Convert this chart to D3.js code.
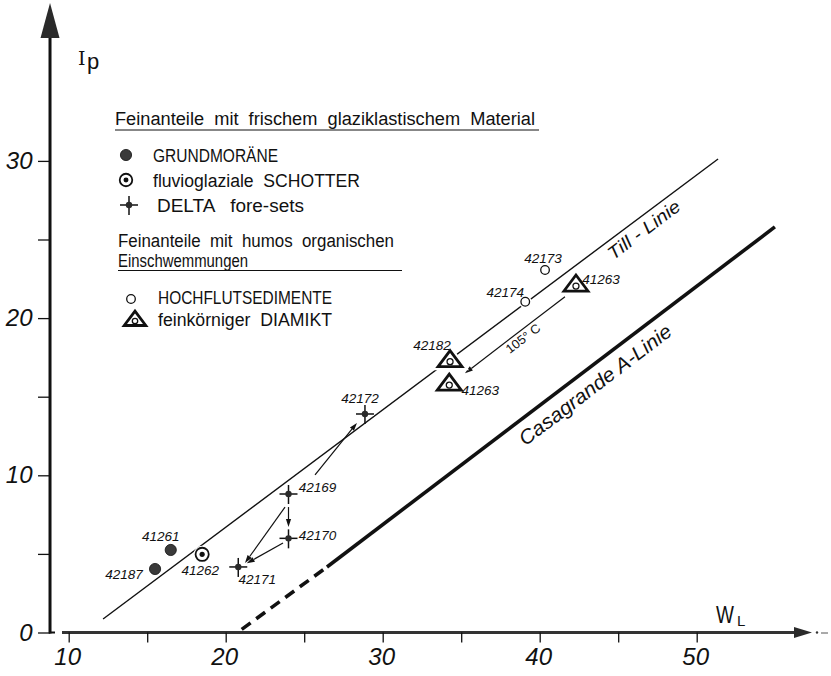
<!DOCTYPE html>
<html><head><meta charset="utf-8">
<script src="https://cdn.jsdelivr.net/npm/d3@7"></script>
<style>body{margin:0;background:#fff}svg{display:block}</style>
</head><body>
<svg id="c" width="831" height="676"></svg>
<script>
// ---------- DATA ----------
const xTicks = [10, 20, 30, 40, 50];
const xMinor = [15, 25, 35, 45];
const yTicks = [0, 10, 20, 30];
const yMinor = [5, 15, 25];

const grundmoraene = [{id:"41261", wl:16.5, ip:5.25}, {id:"42187", wl:15.5, ip:4.04}];
const schotter     = [{id:"41262", wl:18.5, ip:4.97}];
const deltaSets    = [{id:"42171", wl:20.8, ip:4.17}, {id:"42170", wl:24.0, ip:5.99},
                      {id:"42169", wl:24.0, ip:8.81}, {id:"42172", wl:28.87, ip:13.9}];
const hochflut     = [{id:"42174", wl:39.08, ip:21.04}, {id:"42173", wl:40.34, ip:23.06}];
const diamikt      = [{id:"42182", wl:34.29, ip:17.23}, {id:"41263", wl:34.24, ip:15.74},
                      {id:"41263", wl:42.31, ip:22.04}];

const tillLine   = [[12.19, 0.86], [51.36, 30.12]];
const aLineDash  = [[21.02, 0.2], [26.45, 4.17]];
const aLineSolid = [[26.45, 4.17], [54.98, 25.8]];
const arrowsData = [
  [[25.69, 10.02], [28.36, 13.33]],
  [[24.0, 7.98], [24.0, 6.71]],
  [[23.78, 7.98], [21.23, 4.42]],
  [[23.65, 5.69], [21.34, 4.40]],
  [[41.61, 21.36], [35.24, 16.49]]
];
const legendTexts = ["Feinanteile  mit  frischem  glaziklastischem  Material", "GRUNDMORÄNE",
  "fluvioglaziale  SCHOTTER", "DELTA   fore-sets", "Feinanteile  mit  humos  organischen",
  "Einschwemmungen", "HOCHFLUTSEDIMENTE", "feinkörniger  DIAMIKT"];
const lineLabels = {till:"Till - Linie", casa:"Casagrande A-Linie", heat:"105° C"};

// ---------- LAYOUT ----------
const svg = d3.select("#c");
const x = d3.scaleLinear().domain([10, 50]).range([68.7, 696.7]);
const y = d3.scaleLinear().domain([0, 30]).range([632.5, 160.9]);
const ink = "#111";
const sans = "'Liberation Sans', Arial, sans-serif";

const lblOff = {"41261":[-10,-9],"42187":[-31,10],"41262":[-2,21],"42171":[19,17],"42170":[29,2],
  "42169":[29,-2],"42172":[-5,-11],"42182":[-18,-12],"41263a":[31,10],"42174":[-20,-5],
  "42173":[-2,-7],"41263b":[25,-2]};

// ---------- AXES ----------
const axX = x(8.81), axY = y(0);
svg.append("line").attr("x1",axX).attr("x2",axX).attr("y1",axY+1).attr("y2",30)
  .attr("stroke",ink).attr("stroke-width",3);
svg.append("path").attr("d",`M${axX},3 L${axX-9.5},38 L${axX+9.5},38 Z`).attr("fill","#2a2a2a");
svg.append("line").attr("x1",axX-1).attr("x2",axX+5).attr("y1",axY).attr("y2",axY)
  .attr("stroke",ink).attr("stroke-width",2);
svg.append("line").attr("x1",62).attr("x2",797).attr("y1",axY).attr("y2",axY)
  .attr("stroke","#333").attr("stroke-width",3);
svg.append("path").attr("d",`M812,${axY} L794,${axY-5.5} L794,${axY+5.5} Z`).attr("fill","#2a2a2a");
svg.append("circle").attr("cx",817).attr("cy",axY).attr("r",1.2).attr("fill","#333");
svg.append("line").attr("x1",821).attr("x2",828).attr("y1",axY+0.5).attr("y2",axY+0.5).attr("stroke","#555").attr("stroke-width",1);

function styleAxis(g){
  g.select(".domain").remove();
  g.selectAll(".tick line").attr("stroke",ink).attr("stroke-width",1.3);
  g.selectAll(".tick text").attr("fill",ink).attr("font-family",sans)
    .attr("font-style","italic").attr("font-size",24);
}
svg.append("g").attr("transform",`translate(${axX},0)`)
  .call(d3.axisLeft(y).tickValues(yTicks).tickSize(12).tickPadding(4).tickFormat(d3.format("d")))
  .call(styleAxis);
svg.append("g").attr("transform",`translate(${axX},0)`)
  .call(d3.axisLeft(y).tickValues(yMinor).tickSize(12).tickFormat(""))
  .call(styleAxis);
svg.append("g").attr("transform",`translate(0,${axY})`)
  .call(d3.axisBottom(x).tickValues(xTicks).tickSize(10).tickPadding(5.5).tickFormat(d3.format("d")))
  .call(styleAxis);
svg.append("g").attr("transform",`translate(0,${axY})`)
  .call(d3.axisBottom(x).tickValues(xMinor).tickSize(10).tickFormat(""))
  .call(styleAxis);
svg.selectAll(".tick text").attr("dx",-1.5);

// axis titles
svg.append("text").attr("x",78).attr("y",65).attr("fill",ink)
  .attr("font-family","'DejaVu Serif', serif").attr("font-size",19).text("I");
svg.append("text").attr("x",87).attr("y",69).attr("fill",ink)
  .attr("font-family",sans).attr("font-size",22).text("p");
svg.append("text").attr("transform","translate(716,623) scale(1,1.3)").attr("fill",ink)
  .attr("font-family",sans).attr("font-size",19).text("W");
svg.append("text").attr("x",737).attr("y",626).attr("fill",ink).attr("font-family",sans)
  .attr("font-size",15).text("L");

// ---------- LINES ----------
const line = d3.line().x(d=>x(d[0])).y(d=>y(d[1]));
svg.append("path").attr("d",line(tillLine)).attr("stroke",ink).attr("stroke-width",1.4).attr("fill","none");
svg.append("path").attr("d",line(aLineDash)).attr("stroke",ink).attr("stroke-width",3.6)
  .attr("stroke-dasharray","11,7").attr("fill","none");
svg.append("path").attr("d",line(aLineSolid)).attr("stroke",ink).attr("stroke-width",3.6).attr("fill","none");

function alongLabel(seg, wlVal, perp, txt, size, italic, len){
  const p0=[x(seg[0][0]),y(seg[0][1])], p1=[x(seg[1][0]),y(seg[1][1])];
  const dx=p1[0]-p0[0], dy=p1[1]-p0[1], L=Math.hypot(dx,dy);
  const ux=dx/L, uy=dy/L;
  const t=(x(wlVal)-p0[0])/dx;
  const px=p0[0]+t*dx, py=p0[1]+t*dy;
  const nx=-uy, ny=ux;
  const sgn = ny>0?1:-1;
  const cx=px+sgn*nx*perp, cy=py+sgn*ny*perp;
  const ang=Math.atan2(dy,dx)*180/Math.PI;
  const a = ang>90||ang<-90 ? ang+180 : ang;
  const tx = svg.append("text").attr("transform",`translate(${cx},${cy}) rotate(${a})`)
    .attr("text-anchor","middle").attr("dominant-baseline","central")
    .attr("font-family",sans).attr("font-size",size).attr("font-style",italic?"italic":"normal")
    .attr("fill",ink).style("white-space","pre").text(txt);
  if(len) tx.attr("textLength",len).attr("lengthAdjust","spacingAndGlyphs");
}
alongLabel(tillLine, 46.17, 12.4, lineLabels.till, 18, true, 86);
alongLabel(aLineSolid, 42.87, 17, lineLabels.casa, 20, true, 186);

function arrow(a){
  const p0=[x(a[0][0]),y(a[0][1])], p1=[x(a[1][0]),y(a[1][1])];
  const dx=p1[0]-p0[0], dy=p1[1]-p0[1], L=Math.hypot(dx,dy), ux=dx/L, uy=dy/L;
  const hl=8, hw=2.6;
  const bx=p1[0]-ux*hl, by=p1[1]-uy*hl;
  svg.append("line").attr("x1",p0[0]).attr("y1",p0[1]).attr("x2",bx).attr("y2",by)
    .attr("stroke",ink).attr("stroke-width",1.2);
  svg.append("path").attr("d",`M${p1[0]},${p1[1]} L${bx-uy*hw},${by+ux*hw} L${bx+uy*hw},${by-ux*hw} Z`)
    .attr("fill",ink);
}
arrowsData.forEach(arrow);
alongLabel(arrowsData[4], 38.64, 8, lineLabels.heat, 12.5, false, 40);

// ---------- MARKERS ----------
function drawMarker(g, type, s){
  s = s||1;
  if(type==="dot"){
    g.append("circle").attr("r",5.6*s).attr("fill","#3a3a3a").attr("stroke",ink).attr("stroke-width",0.8);
  } else if(type==="ring"){
    g.append("circle").attr("r",8.5*s).attr("fill","#fff");
    g.append("circle").attr("r",6.6*s).attr("fill","#fff").attr("stroke",ink).attr("stroke-width",1.8);
    g.append("circle").attr("r",2.6*s).attr("fill",ink);
  } else if(type==="cross"){
    g.append("line").attr("x1",-9*s).attr("x2",9*s).attr("stroke","#fff").attr("stroke-width",4);
    g.append("line").attr("x1",-9*s).attr("x2",9*s).attr("stroke",ink).attr("stroke-width",1.5);
    g.append("line").attr("y1",-9*s).attr("y2",10*s).attr("stroke",ink).attr("stroke-width",1.5);
    g.append("circle").attr("r",3.2*s).attr("fill","#2a2a2a");
  } else if(type==="circle"){
    g.append("circle").attr("r",4.3*s).attr("fill","#fff").attr("stroke","#fff").attr("stroke-width",4);
    g.append("circle").attr("r",4.3*s).attr("fill","#fff").attr("stroke",ink).attr("stroke-width",1.3);
  } else if(type==="tri"){
    const d=`M0,${-11*s} L${12*s},${5*s} L${-12*s},${5*s} Z`;
    g.append("path").attr("d",d).attr("fill","#fff").attr("stroke","#fff").attr("stroke-width",7);
    g.append("path").attr("d",d).attr("fill","#fff").attr("stroke",ink).attr("stroke-width",2.8)
      .attr("stroke-linejoin","miter");
    g.append("circle").attr("cy",0).attr("r",3*s).attr("fill","none").attr("stroke",ink).attr("stroke-width",1.3);
  }
}
const groups = [[grundmoraene,"dot"],[schotter,"ring"],[deltaSets,"cross"],[hochflut,"circle"],[diamikt,"tri"]];
let diaCount = 0;
groups.forEach(([arr,type])=>{
  arr.forEach(d=>{
    const g = svg.append("g").attr("transform",`translate(${x(d.wl)},${y(d.ip)})`);
    drawMarker(g,type);
    let key = d.id;
    if(d.id==="41263"){ key = diaCount===0 ? "41263a" : "41263b"; diaCount++; }
    const o = lblOff[key];
    svg.append("text").attr("x",x(d.wl)+o[0]).attr("y",y(d.ip)+o[1])
      .attr("text-anchor","middle").attr("font-family",sans).attr("font-style","italic")
      .attr("font-size",13.5).attr("fill",ink).text(d.id);
  });
});

// ---------- LEGEND ----------
const legLayout = [
  {x:115,y:125,len:420},{x:153,y:162,len:125},{x:153,y:187,len:207},{x:157,y:212,len:147},
  {x:118,y:247,len:276},{x:118,y:267,len:130},{x:158,y:304,len:174},{x:158,y:326,len:174}];
legendTexts.forEach((t,i)=>{
  const L=legLayout[i];
  svg.append("text").attr("x",L.x).attr("y",L.y).attr("font-family",sans).attr("font-size",18)
    .attr("fill",ink).attr("textLength",L.len).attr("lengthAdjust","spacingAndGlyphs")
    .style("white-space","pre").text(t);
});
svg.append("line").attr("x1",115).attr("x2",539).attr("y1",130).attr("y2",130).attr("stroke",ink).attr("stroke-width",1.2);
svg.append("line").attr("x1",118).attr("x2",402).attr("y1",270.5).attr("y2",270.5).attr("stroke",ink).attr("stroke-width",1.2);
const legSym = [["dot",126,155],["ring",126,180],["cross",129,205],["circle",131,299],["tri",135,321]];
legSym.forEach(([t,lx,ly])=>{
  drawMarker(svg.append("g").attr("transform",`translate(${lx},${ly})`), t, t==="ring"?0.95:(t==="tri"?0.9:1));
});
</script>
</body></html>
